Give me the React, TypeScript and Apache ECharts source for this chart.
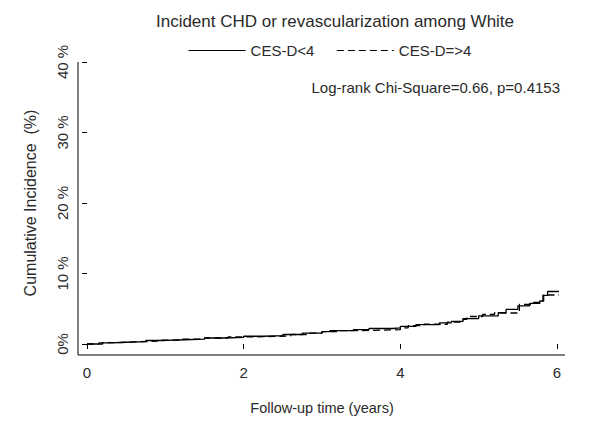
import React, { useEffect, useRef } from "react";
import * as echarts from "echarts";

const titleText = "Incident CHD or revascularization among White";
const seriesNames = ["CES-D<4", "CES-D=>4"];
const yTickLabels: Record<number, string> = { 0: "0%", 10: "10 %", 20: "20 %", 30: "30 %", 40: "40 %" };
const annotation = "Log-rank Chi-Square=0.66, p=0.4153";

// Follow-up time (years) and cumulative incidence (%) for each group
const lowTime = [0, 0.15, 0.3, 0.5, 0.75, 1.0, 1.25, 1.5, 1.75, 2.0, 2.25, 2.5, 2.75, 3.0, 3.1, 3.4, 3.6, 3.9, 4.0, 4.2, 4.5, 4.65, 4.8, 5.0, 5.25, 5.35, 5.5, 5.65, 5.78, 5.83, 5.88, 6.04];
const lowPct = [0, 0.15, 0.25, 0.35, 0.5, 0.6, 0.7, 0.85, 0.95, 1.1, 1.2, 1.35, 1.55, 1.75, 1.9, 2.05, 2.2, 2.3, 2.5, 2.75, 3.0, 3.2, 3.6, 4.0, 4.45, 4.9, 5.4, 5.75, 6.1, 6.9, 7.45, 7.45];
const highTime = [0, 0.2, 0.4, 0.6, 0.9, 1.2, 1.5, 1.8, 2.1, 2.3, 2.6, 2.8, 3.0, 3.2, 3.5, 3.9, 4.0, 4.1, 4.3, 4.6, 4.8, 4.85, 5.05, 5.2, 5.5, 5.52, 5.7, 5.8, 5.82, 6.04];
const highPct = [0, 0.2, 0.3, 0.4, 0.55, 0.7, 0.85, 1.0, 1.05, 1.15, 1.35, 1.55, 1.75, 1.9, 2.0, 2.05, 2.3, 2.6, 2.8, 3.1, 3.5, 3.9, 4.2, 4.4, 4.4, 5.6, 5.9, 6.1, 6.95, 6.95];

const FONT = "Liberation Sans, Arial, sans-serif";
const TXT = "#2a2a2a";

export default function App() {
  const ref = useRef<HTMLDivElement>(null);
  useEffect(() => {
    if (!ref.current) return;
    const chart = echarts.init(ref.current, undefined, { renderer: "svg" });
    const low = lowTime.map((t, i) => [t, lowPct[i]]);
    const high = highTime.map((t, i) => [t, highPct[i]]);
    chart.setOption({
      animation: false,
      backgroundColor: "#ffffff",
      textStyle: { fontFamily: FONT },
      title: {
        text: titleText,
        left: 330,
        textAlign: "center",
        top: 8,
        textStyle: { fontFamily: FONT, fontSize: 17, fontWeight: "normal", color: TXT },
      },
      legend: {
        data: seriesNames,
        top: 38,
        left: 183,
        itemWidth: 57,
        itemHeight: 10,
        itemGap: 22,
        itemStyle: { opacity: 0 },
        lineStyle: { width: 1.1 },
        textStyle: { fontFamily: FONT, fontSize: 15, color: TXT },
      },
      grid: { left: 87, right: 43, top: 62, bottom: 86, containLabel: false },
      xAxis: {
        type: "value",
        min: 0,
        max: 6,
        interval: 2,
        offset: 11,
        name: "Follow-up time (years)",
        nameLocation: "middle",
        nameGap: 45,
        nameTextStyle: { fontFamily: FONT, fontSize: 14.5, color: TXT },
        axisLine: { show: false },
        axisTick: { show: true, length: 5, lineStyle: { color: "#000", width: 1 } },
        axisLabel: { fontFamily: FONT, fontSize: 15, color: TXT, margin: 10 },
        splitLine: { show: false },
      },
      yAxis: {
        type: "value",
        min: 0,
        max: 40,
        interval: 10,
        offset: 9,
        name: "Cumulative Incidence  (%)",
        nameLocation: "middle",
        nameGap: 40,
        nameRotate: 90,
        nameTextStyle: { fontFamily: FONT, fontSize: 16, color: TXT },
        axisLine: { show: false },
        axisTick: { show: true, length: 5, lineStyle: { color: "#000", width: 1 } },
        axisLabel: {
          fontFamily: FONT,
          fontSize: 15,
          color: TXT,
          rotate: 90,
          margin: 8,
          formatter: (v: number) => yTickLabels[v] ?? String(v),
        },
        splitLine: { show: false },
      },
      graphic: [
        { type: "line", shape: { x1: 78, y1: 62, x2: 78, y2: 355 }, style: { stroke: "#000", lineWidth: 1 } },
        { type: "line", shape: { x1: 78, y1: 355, x2: 565, y2: 355 }, style: { stroke: "#000", lineWidth: 1 } },
        {
          type: "text",
          right: 40,
          top: 80,
          style: { text: annotation, fontFamily: FONT, fontSize: 15, fill: TXT },
        },
      ],
      series: [
        {
          name: seriesNames[0],
          type: "line",
          step: "end",
          data: low,
          symbol: "none",
          clip: false,
          lineStyle: { color: "#000", width: 1.3, type: "solid" },
          itemStyle: { color: "#000" },
        },
        {
          name: seriesNames[1],
          type: "line",
          step: "end",
          data: high,
          symbol: "none",
          clip: false,
          lineStyle: { color: "#000", width: 1.3, type: [7, 4] },
          itemStyle: { color: "#000" },
        },
      ],
    });
    return () => chart.dispose();
  }, []);
  return (
    <div
      ref={ref}
      style={{ position: "absolute", left: 0, top: 0, width: 600, height: 430 }}
    />
  );
}
